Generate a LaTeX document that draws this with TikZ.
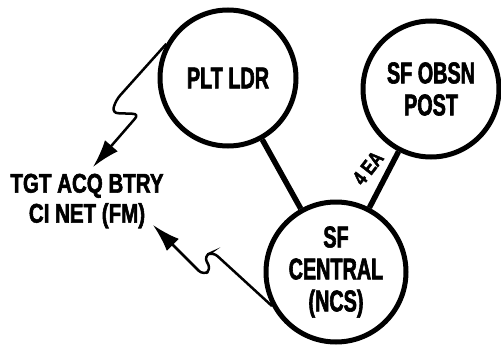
\documentclass[tikz,border=0pt]{standalone}
\usepackage{fontspec}
\newfontfamily\milfont[FakeStretch=0.66,FakeBold=2]{Liberation Sans}
\newfontfamily\milwidefont[FakeStretch=0.76,FakeBold=2]{Liberation Sans}
\usetikzlibrary{arrows.meta,calc}
\tikzset{
    station/.style = {draw, circle, line width=5pt,
        minimum size=136pt, inner sep=0pt,
        font=\milfont\bfseries\fontsize{30}{32}\selectfont, align=center},
    netlabel/.style = {font=\milwidefont\bfseries\fontsize{27}{30}\selectfont, align=center},
    link/.style = {draw, line width=5.5pt},
    radio/.style = {draw, line width=2.5pt, rounded corners=6pt,
        -{Latex[length=28pt,width=17pt]}}
}
\begin{document}
\begin{tikzpicture}[x=1pt,y=-1pt]
    \useasboundingbox (0,0) rectangle (501,345);
    % stations
    \node[station] (pltldr) at (228,78) {PLT LDR};
    \node[station] (obsn) at (431,89) {SF OBSN\\POST};
    \node[station,minimum size=140pt] (central) at (336,272) {SF\\CENTRAL\\(NCS)};
    \node[netlabel] (tgtnet) at (87,201) {TGT ACQ BTRY\\CI NET (FM)};
    % wire links
    \path[link] (pltldr) -- (central);
    \path[link] (central) -- (obsn);
    \node[rotate=52,inner sep=0pt,
        font=\milwidefont\bfseries\fontsize{21}{24}\selectfont] (ea) at (368,168) {4 EA};
    % radio links
    \coordinate (tipa) at (93,167);
    \coordinate (tipb) at (153,225);
    \draw[radio] (pltldr.151) -- (116,100) -- (112,113) -- (139,114) -- (tipa);
    \draw[radio] (central.208) -- (213,252) -- (204,256) -- (211,270) -- (203,275) -- (tipb);
\end{tikzpicture}
\end{document}
